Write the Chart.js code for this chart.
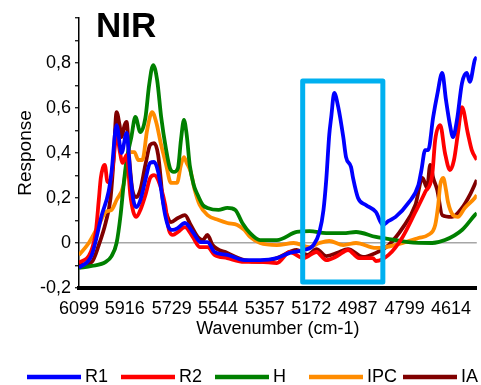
<!DOCTYPE html>
<html>
<head>
<meta charset="utf-8">
<script src="https://cdn.jsdelivr.net/npm/chart.js@4.4.0/dist/chart.umd.min.js"></script>
<style>
  html, body { margin: 0; padding: 0; background: #ffffff; }
  canvas { display: block; }
</style>
</head>
<body>
<canvas id="nir" width="481" height="385"></canvas>
<script>
// NIR response spectra, wavenumber (cm-1) against response
const r1Wavenumber = [6099,6048,6008,5981,5969,5949,5929,5909,5894,5882,5870,5854,5834,5815,5799,5783,5755,5740,5724,5704,5676,5645,5613,5586,5558,5507,5439,5376,5309,5258,5202,5163,5139,5123,5112,5100,5092,5080,5064,5044,5033,5013,5005,4985,4954,4914,4886,4863,4835,4784,4744,4732,4717,4705,4685,4669,4649,4634,4618,4606,4590,4570,4551,4539,4519,4511];
const r1Response = [-0.111,-0.053,0.124,0.227,0.316,0.524,0.4,0.489,0.302,0.191,0.16,0.191,0.28,0.356,0.36,0.316,0.124,0.067,0.058,0.067,0.089,0.049,0.004,0.004,-0.04,-0.053,-0.076,-0.076,-0.067,-0.044,-0.031,-0.009,0.049,0.147,0.28,0.48,0.56,0.667,0.604,0.471,0.382,0.338,0.289,0.2,0.169,0.138,0.08,0.098,0.116,0.178,0.258,0.324,0.413,0.413,0.56,0.658,0.756,0.636,0.524,0.471,0.547,0.711,0.756,0.716,0.813,0.827];

const r2Wavenumber = [6099,6052,6032,6020,6012,6004,5996,5985,5973,5961,5949,5937,5925,5909,5894,5882,5870,5854,5834,5815,5799,5783,5755,5740,5724,5704,5676,5645,5617,5586,5558,5507,5439,5376,5309,5258,5202,5151,5112,5068,5025,4981,4926,4914,4863,4807,4756,4717,4689,4677,4657,4638,4618,4602,4586,4570,4547,4531,4511];
const r2Response = [-0.089,-0.04,0.049,0.191,0.289,0.333,0.347,0.271,0.28,0.369,0.493,0.413,0.356,0.391,0.213,0.138,0.116,0.147,0.213,0.289,0.302,0.28,0.169,0.058,0.036,0.049,0.071,0.027,-0.018,-0.018,-0.053,-0.067,-0.084,-0.084,-0.089,-0.04,-0.067,-0.04,-0.076,-0.058,-0.031,-0.067,-0.067,-0.08,-0.053,0.027,0.138,0.227,0.302,0.458,0.524,0.4,0.324,0.369,0.489,0.604,0.489,0.413,0.369];

const hWavenumber = [6099,6048,5992,5969,5949,5933,5921,5909,5890,5874,5854,5834,5819,5803,5787,5771,5751,5736,5720,5704,5692,5680,5669,5657,5641,5625,5605,5586,5542,5507,5475,5447,5416,5376,5309,5230,5179,5112,5044,4993,4914,4835,4784,4689,4638,4570,4519,4511];
const hResponse = [-0.111,-0.102,-0.084,-0.058,0,0.124,0.258,0.369,0.471,0.56,0.493,0.556,0.702,0.791,0.724,0.56,0.413,0.333,0.316,0.333,0.458,0.547,0.48,0.347,0.258,0.213,0.169,0.156,0.147,0.156,0.147,0.089,0.044,0.013,0.013,0.049,0.053,0.044,0.044,0.049,0.027,0.013,0.004,0,0.013,0.058,0.124,0.133];

const ipcWavenumber = [6099,6060,6020,5992,5969,5949,5921,5909,5894,5878,5862,5846,5827,5807,5791,5771,5751,5732,5708,5692,5680,5669,5653,5637,5617,5586,5542,5507,5467,5439,5416,5376,5309,5242,5179,5139,5100,5044,4993,4914,4875,4796,4744,4705,4677,4665,4657,4645,4634,4626,4606,4586,4559,4519,4511];
const ipcResponse = [-0.053,0,0.08,0.138,0.147,0.191,0.258,0.347,0.404,0.404,0.369,0.369,0.502,0.582,0.538,0.436,0.347,0.267,0.267,0.347,0.382,0.356,0.316,0.236,0.169,0.124,0.102,0.089,0.08,0.058,0.027,0,-0.009,0,-0.018,0,0.009,-0.009,0,-0.022,-0.018,0.004,0.022,0.036,0.08,0.169,0.258,0.289,0.236,0.182,0.124,0.116,0.156,0.2,0.213];

const iaWavenumber = [6099,6048,6020,5992,5973,5961,5949,5937,5929,5917,5909,5898,5886,5870,5854,5834,5815,5799,5783,5763,5748,5732,5704,5676,5653,5625,5605,5586,5566,5507,5439,5376,5309,5230,5187,5151,5112,5068,5025,4965,4914,4863,4807,4756,4728,4709,4697,4685,4669,4649,4610,4570,4539,4511];
const iaResponse = [-0.098,-0.084,-0.009,0.093,0.2,0.369,0.582,0.524,0.471,0.524,0.538,0.369,0.236,0.204,0.236,0.347,0.436,0.444,0.391,0.182,0.124,0.093,0.111,0.124,0.08,0.027,0.013,0.036,-0.009,-0.044,-0.076,-0.084,-0.067,-0.031,-0.053,-0.027,-0.058,-0.044,-0.027,-0.062,-0.044,-0.009,0.067,0.169,0.289,0.244,0.347,0.289,0.236,0.124,0.116,0.156,0.213,0.28];

const seriesNames = ['R1', 'R2', 'H', 'IPC', 'IA'];
const xTickValues = [6099, 5916, 5729, 5544, 5357, 5172, 4987, 4799, 4614];
const yTickLabelValues = [-0.2, 0, 0.2, 0.4, 0.6, 0.8];
const chartTitle = 'NIR';
const xAxisTitle = 'Wavenumber (cm-1)';
const yAxisTitle = 'Response';
// highlighted band around the R1 peak (wavenumber span and response span)
const highlightBand = { from: 5206, to: 4886, top: 0.72, bottom: -0.173 };

const FONT = 'Liberation Sans, Arial, sans-serif';
const colors = ['#0000ff', '#ff0000', '#008000', '#ff8c00', '#800000'];

function pairs(xs, ys) { return xs.map((x, i) => ({ x: x, y: ys[i] })); }
const seriesData = [
  pairs(r1Wavenumber, r1Response),
  pairs(r2Wavenumber, r2Response),
  pairs(hWavenumber, hResponse),
  pairs(ipcWavenumber, ipcResponse),
  pairs(iaWavenumber, iaResponse)
];

function formatResponse(v) {
  if (Math.abs(v) < 1e-9) return '0';
  return v.toFixed(1).replace('.', ',');
}

const highlightPlugin = {
  id: 'highlightBand',
  afterDatasetsDraw(chart) {
    const { ctx, scales } = chart;
    const l = scales.x.getPixelForValue(highlightBand.from);
    const r = scales.x.getPixelForValue(highlightBand.to);
    const t = scales.y.getPixelForValue(highlightBand.top);
    const b = scales.y.getPixelForValue(highlightBand.bottom);
    ctx.save();
    ctx.strokeStyle = '#00b0f0';
    ctx.lineWidth = 5;
    ctx.lineJoin = 'round';
    ctx.strokeRect(Math.min(l, r), t, Math.abs(r - l), b - t);
    ctx.restore();
  }
};

const titleAndLegendPlugin = {
  id: 'titleAndLegend',
  afterDraw(chart) {
    const ctx = chart.ctx;
    ctx.save();
    // chart title
    ctx.fillStyle = '#000';
    ctx.font = 'bold 35px ' + FONT;
    ctx.textAlign = 'left';
    ctx.textBaseline = 'alphabetic';
    ctx.fillText(chartTitle, 96, 37);
    // legend row
    const y = 377;
    chart.data.datasets.forEach((ds, i) => {
      const x0 = 27 + i * 94;
      ctx.strokeStyle = ds.borderColor;
      ctx.lineWidth = 4.5;
      ctx.beginPath();
      ctx.moveTo(x0, y);
      ctx.lineTo(x0 + 54, y);
      ctx.stroke();
      ctx.fillStyle = '#000';
      ctx.font = '18px ' + FONT;
      ctx.textBaseline = 'middle';
      ctx.fillText(ds.label, x0 + 58, y);
    });
    ctx.restore();
  }
};

new Chart(document.getElementById('nir'), {
  type: 'line',
  data: {
    datasets: seriesNames.map((name, i) => ({
      label: name,
      data: seriesData[i],
      borderColor: colors[i],
      backgroundColor: colors[i],
      borderWidth: 3.8,
      pointRadius: 0,
      fill: false,
      cubicInterpolationMode: 'monotone'
    }))
  },
  options: {
    responsive: false,
    animation: false,
    devicePixelRatio: 1,
    layout: { padding: { top: 18, right: 0, bottom: 0, left: 0 } },
    plugins: { legend: { display: false }, tooltip: { enabled: false }, title: { display: false } },
    scales: {
      x: {
        type: 'linear',
        reverse: true,
        min: 4511,
        max: 6099,
        afterBuildTicks: (s) => { s.ticks = xTickValues.map(v => ({ value: v })); },
        afterFit: (s) => { s.height = 97; },
        grid: { display: false, drawTicks: false },
        border: { display: true, color: '#000', width: 4 },
        ticks: {
          color: '#000', font: { family: FONT, size: 18 }, padding: 10,
          maxRotation: 0, autoSkip: false,
          callback: (v) => String(v)
        },
        title: {
          display: true, text: xAxisTitle, color: '#000',
          font: { family: FONT, size: 18 }, padding: { top: 0, bottom: 45 }
        }
      },
      y: {
        min: -0.2,
        max: 1.0,
        afterBuildTicks: (s) => {
          const t = [];
          for (let k = -2; k <= 10; k++) t.push({ value: k / 10 });
          s.ticks = t;
        },
        afterFit: (s) => { s.width = 79; },
        grid: {
          color: (c) => (c.tick && Math.abs(c.tick.value) < 1e-9) ? '#a6a6a6' : 'rgba(0,0,0,0)',
          lineWidth: 1.5,
          drawTicks: true,
          tickLength: 4,
          tickColor: '#000',
          tickWidth: 1.2
        },
        border: { display: true, color: '#000', width: 1.5 },
        ticks: {
          color: '#000', font: { family: FONT, size: 18 }, padding: 4, autoSkip: false,
          callback: (v) => yTickLabelValues.some(t => Math.abs(t - v) < 1e-9) ? formatResponse(v) : ''
        },
        title: {
          display: true, text: yAxisTitle, color: '#000',
          font: { family: FONT, size: 19 }, padding: { top: 14, bottom: 0 }
        }
      }
    }
  },
  plugins: [highlightPlugin, titleAndLegendPlugin]
});
</script>
</body>
</html>
